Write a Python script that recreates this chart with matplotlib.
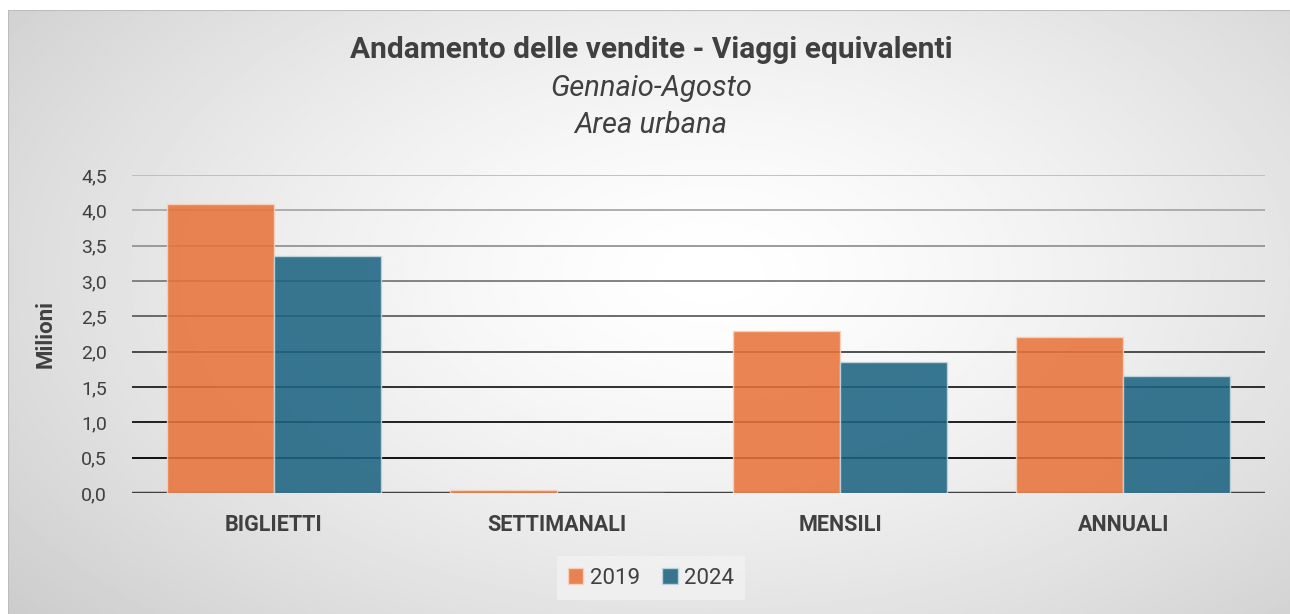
import numpy as np
import matplotlib.pyplot as plt
from matplotlib.patches import Patch

categories = ['BIGLIETTI', 'SETTIMANALI', 'MENSILI', 'ANNUALI']
vals_2019 = [4.09, 0.04, 2.29, 2.21]
vals_2024 = [3.36, 0.0, 1.85, 1.65]
yticks = [0.0, 0.5, 1.0, 1.5, 2.0, 2.5, 3.0, 3.5, 4.0, 4.5]

W, H = 1290, 614
fig = plt.figure(figsize=(W / 100, H / 100), dpi=100)
fig.patch.set_facecolor('white')

# radial gradient background of the chart area
bg = fig.add_axes([8 / W, 0, (W - 8) / W, (H - 10) / H])
bg.set_axis_off()
yy, xx = np.mgrid[0:300, 0:640]
cx, cy = 350, 130
r = np.sqrt(((xx - cx) / 520.0) ** 2 + ((yy - cy) / 300.0) ** 2)
shade = 1.0 - 0.24 * np.clip(r, 0, 1.2) ** 1.4
bg.imshow(shade, cmap='gray', vmin=0, vmax=1, aspect='auto',
          extent=[0, 1, 0, 1], interpolation='bilinear')
bg.set_xlim(0, 1)
bg.set_ylim(0, 1)
bg.plot([0, 1], [1, 1], color='#bdbdbd', lw=1.5)
bg.plot([0, 0], [0, 1], color='#bdbdbd', lw=1.5)

ax = fig.add_axes([132 / W, 1 - 493 / H, 1133 / W, (493 - 175) / H])
ax.patch.set_alpha(0)
x = np.arange(len(categories))
bw = 0.378
ax.bar(x - bw / 2, vals_2019, bw, color='#E8743B', alpha=0.88,
       edgecolor='#f6d3bd', linewidth=1, zorder=5, label='2019')
ax.bar(x + bw / 2, vals_2024, bw, color='#1D6482', alpha=0.88,
       edgecolor='#c3d6de', linewidth=1, zorder=5, label='2024')

grid_cols = ['#bcbcbc', '#a8a8a8', '#949494', '#7a7a7a', '#606060',
             '#404040', '#202020', '#101010', '#000000']
for t, c in zip(yticks[1:][::-1], grid_cols):
    ax.axhline(t, color=c, lw=1.3, zorder=1)
ax.axhline(0, color='#404040', lw=2.5, zorder=4)

ax.set_xlim(-0.5, 3.5)
ax.set_ylim(0, 4.5)
ax.set_yticks(yticks)
ax.set_yticklabels([f'{t:.1f}'.replace('.', ',') for t in yticks],
                   fontsize=14, color='#404040', family='Roboto')
ax.set_xticks(x)
ax.set_xticklabels(categories, fontsize=15.5, fontweight='bold',
                   color='#404040', family='Roboto')
ax.tick_params(axis='both', length=0)
ax.tick_params(axis='x', pad=15)
ax.tick_params(axis='y', pad=18)
for s in ax.spines.values():
    s.set_visible(False)
ax.set_ylabel('Milioni', fontsize=16, fontweight='bold', color='#404040',
              family='Roboto')
ax.yaxis.set_label_coords((57 - 132) / 1133, 0.5)

fig.text(651 / W, 1 - 50 / H, 'Andamento delle vendite - Viaggi equivalenti',
         ha='center', va='center', fontsize=21.5, fontweight='bold',
         color='#404040', family='Roboto')
fig.text(651 / W, 1 - 88 / H, 'Gennaio-Agosto', ha='center', va='center',
         fontsize=21, style='italic', color='#404040', family='Roboto')
fig.text(651 / W, 1 - 125 / H, 'Area urbana', ha='center', va='center',
         fontsize=21, style='italic', color='#404040', family='Roboto')

handles = [Patch(facecolor='#E8743B', alpha=0.88, edgecolor='#f6d3bd'),
           Patch(facecolor='#1D6482', alpha=0.88, edgecolor='#c3d6de')]
leg = fig.legend(handles, ['2019', '2024'], loc='center',
                 bbox_to_anchor=(651 / W, 1 - 578 / H), ncol=2,
                 frameon=True, fancybox=False, handlelength=0.7,
                 handleheight=0.7, handletextpad=0.3, columnspacing=1.0,
                 borderpad=0.5, prop={'family': 'Roboto', 'size': 16})
leg.get_frame().set_facecolor('#f2f2f2')
leg.get_frame().set_edgecolor('none')
leg.get_frame().set_alpha(0.8)
for txt in leg.get_texts():
    txt.set_color('#404040')

fig.savefig('out.png', dpi=100)
